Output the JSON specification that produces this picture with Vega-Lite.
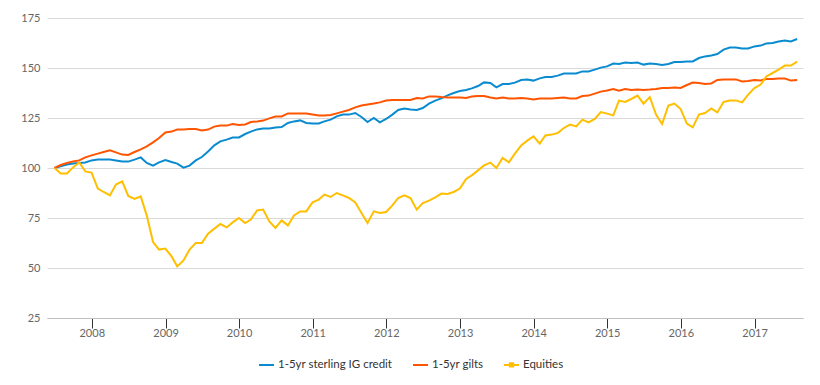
{
  "$schema": "https://vega.github.io/schema/vega-lite/v6.json",
  "width": 756,
  "height": 300,
  "autosize": {"type": "none"},
  "padding": {"left": 47, "top": 18, "right": 17, "bottom": 67},
  "background": "white",
  "config": {"view": {"stroke": null}, "font": "Lato"},
  "data": {"values": [
    {"date":"2007-06-30","credit":100,"gilts":100,"equities":100},
    {"date":"2007-07-31","credit":100.8,"gilts":101.5,"equities":97.3},
    {"date":"2007-08-31","credit":101.7,"gilts":102.5,"equities":97.3},
    {"date":"2007-09-30","credit":102.2,"gilts":103.3,"equities":100.3},
    {"date":"2007-10-31","credit":102.5,"gilts":103.8,"equities":102.8},
    {"date":"2007-11-30","credit":102.8,"gilts":105.3,"equities":98.3},
    {"date":"2007-12-31","credit":103.8,"gilts":106.3,"equities":97.7},
    {"date":"2008-01-31","credit":104.3,"gilts":107.2,"equities":89.7},
    {"date":"2008-02-29","credit":104.3,"gilts":108,"equities":88},
    {"date":"2008-03-31","credit":104.2,"gilts":108.8,"equities":86.3},
    {"date":"2008-04-30","credit":103.8,"gilts":107.8,"equities":91.7},
    {"date":"2008-05-31","credit":103.2,"gilts":106.7,"equities":93.3},
    {"date":"2008-06-30","credit":103.2,"gilts":106.5,"equities":86},
    {"date":"2008-07-31","credit":104.2,"gilts":108,"equities":84.5},
    {"date":"2008-08-31","credit":105.3,"gilts":109.3,"equities":85.8},
    {"date":"2008-09-30","credit":102.5,"gilts":110.8,"equities":76.2},
    {"date":"2008-10-31","credit":101.2,"gilts":112.8,"equities":63},
    {"date":"2008-11-30","credit":102.8,"gilts":115,"equities":59.2},
    {"date":"2008-12-31","credit":104,"gilts":117.8,"equities":59.7},
    {"date":"2009-01-31","credit":103,"gilts":118.2,"equities":55.8},
    {"date":"2009-02-28","credit":102.2,"gilts":119.2,"equities":50.8},
    {"date":"2009-03-31","credit":100.2,"gilts":119.3,"equities":53.8},
    {"date":"2009-04-30","credit":101.2,"gilts":119.5,"equities":59.2},
    {"date":"2009-05-31","credit":103.8,"gilts":119.5,"equities":62.5},
    {"date":"2009-06-30","credit":105.5,"gilts":118.8,"equities":62.5},
    {"date":"2009-07-31","credit":108.3,"gilts":119.2,"equities":67.2},
    {"date":"2009-08-31","credit":111.3,"gilts":120.7,"equities":69.7},
    {"date":"2009-09-30","credit":113.3,"gilts":121.2,"equities":72},
    {"date":"2009-10-31","credit":114.2,"gilts":121.2,"equities":70.3},
    {"date":"2009-11-30","credit":115.2,"gilts":122,"equities":72.8},
    {"date":"2009-12-31","credit":115.3,"gilts":121.5,"equities":75},
    {"date":"2010-01-31","credit":117,"gilts":121.8,"equities":72.5},
    {"date":"2010-02-28","credit":118.2,"gilts":123,"equities":74.2},
    {"date":"2010-03-31","credit":119.3,"gilts":123.3,"equities":78.8},
    {"date":"2010-04-30","credit":119.7,"gilts":123.7,"equities":79.2},
    {"date":"2010-05-31","credit":119.7,"gilts":124.8,"equities":73.3},
    {"date":"2010-06-30","credit":120.3,"gilts":125.7,"equities":70},
    {"date":"2010-07-31","credit":120.5,"gilts":125.8,"equities":73.8},
    {"date":"2010-08-31","credit":122.5,"gilts":127.3,"equities":71.3},
    {"date":"2010-09-30","credit":123.3,"gilts":127.3,"equities":76.3},
    {"date":"2010-10-31","credit":123.8,"gilts":127.3,"equities":78.3},
    {"date":"2010-11-30","credit":122.5,"gilts":127.2,"equities":78.3},
    {"date":"2010-12-31","credit":122.2,"gilts":126.7,"equities":82.8},
    {"date":"2011-01-31","credit":122.3,"gilts":126.2,"equities":84.2},
    {"date":"2011-02-28","credit":123.3,"gilts":126.3,"equities":86.7},
    {"date":"2011-03-31","credit":124.2,"gilts":126.5,"equities":85.5},
    {"date":"2011-04-30","credit":125.8,"gilts":127.3,"equities":87.5},
    {"date":"2011-05-31","credit":126.7,"gilts":128.2,"equities":86.3},
    {"date":"2011-06-30","credit":126.7,"gilts":129,"equities":85},
    {"date":"2011-07-31","credit":127.5,"gilts":130.3,"equities":82.8},
    {"date":"2011-08-31","credit":125.5,"gilts":131.2,"equities":77.5},
    {"date":"2011-09-30","credit":123,"gilts":131.7,"equities":72.5},
    {"date":"2011-10-31","credit":125,"gilts":132.2,"equities":78.3},
    {"date":"2011-11-30","credit":122.8,"gilts":132.8,"equities":77.5},
    {"date":"2011-12-31","credit":124.5,"gilts":133.7,"equities":78},
    {"date":"2012-01-31","credit":126.7,"gilts":134,"equities":81.3},
    {"date":"2012-02-29","credit":129,"gilts":134,"equities":85},
    {"date":"2012-03-31","credit":129.7,"gilts":134,"equities":86.3},
    {"date":"2012-04-30","credit":129.2,"gilts":134,"equities":85},
    {"date":"2012-05-31","credit":129,"gilts":135,"equities":79.2},
    {"date":"2012-06-30","credit":130,"gilts":134.8,"equities":82.5},
    {"date":"2012-07-31","credit":132.2,"gilts":135.8,"equities":83.7},
    {"date":"2012-08-31","credit":133.7,"gilts":135.8,"equities":85.3},
    {"date":"2012-09-30","credit":134.8,"gilts":135.5,"equities":87.2},
    {"date":"2012-10-31","credit":136.3,"gilts":135.3,"equities":87},
    {"date":"2012-11-30","credit":137.5,"gilts":135.3,"equities":88},
    {"date":"2012-12-31","credit":138.5,"gilts":135.2,"equities":89.7},
    {"date":"2013-01-31","credit":139,"gilts":135,"equities":94.5},
    {"date":"2013-02-28","credit":139.8,"gilts":135.7,"equities":96.3},
    {"date":"2013-03-31","credit":141,"gilts":136,"equities":98.8},
    {"date":"2013-04-30","credit":142.8,"gilts":136,"equities":101.3},
    {"date":"2013-05-31","credit":142.5,"gilts":135.3,"equities":102.7},
    {"date":"2013-06-30","credit":140.3,"gilts":134.7,"equities":100},
    {"date":"2013-07-31","credit":142,"gilts":135.2,"equities":105},
    {"date":"2013-08-31","credit":142,"gilts":134.7,"equities":102.8},
    {"date":"2013-09-30","credit":142.7,"gilts":134.8,"equities":107.2},
    {"date":"2013-10-31","credit":144,"gilts":135,"equities":111.3},
    {"date":"2013-11-30","credit":144.2,"gilts":134.7,"equities":113.7},
    {"date":"2013-12-31","credit":143.7,"gilts":134.2,"equities":115.8},
    {"date":"2014-01-31","credit":144.8,"gilts":134.8,"equities":112.2},
    {"date":"2014-02-28","credit":145.5,"gilts":134.7,"equities":116.3},
    {"date":"2014-03-31","credit":145.5,"gilts":134.8,"equities":116.7},
    {"date":"2014-04-30","credit":146.2,"gilts":135,"equities":117.5},
    {"date":"2014-05-31","credit":147.2,"gilts":135.2,"equities":120},
    {"date":"2014-06-30","credit":147.2,"gilts":134.8,"equities":121.7},
    {"date":"2014-07-31","credit":147.3,"gilts":134.8,"equities":120.8},
    {"date":"2014-08-31","credit":148.3,"gilts":136,"equities":124.2},
    {"date":"2014-09-30","credit":148.3,"gilts":136.2,"equities":122.8},
    {"date":"2014-10-31","credit":149.2,"gilts":137.2,"equities":124.5},
    {"date":"2014-11-30","credit":150.2,"gilts":138.2,"equities":128},
    {"date":"2014-12-31","credit":150.8,"gilts":138.8,"equities":127.2},
    {"date":"2015-01-31","credit":152.2,"gilts":139.5,"equities":126.3},
    {"date":"2015-02-28","credit":152,"gilts":138.7,"equities":133.7},
    {"date":"2015-03-31","credit":152.7,"gilts":139.5,"equities":133},
    {"date":"2015-04-30","credit":152.5,"gilts":139,"equities":134.5},
    {"date":"2015-05-31","credit":152.7,"gilts":139.2,"equities":136.2},
    {"date":"2015-06-30","credit":151.7,"gilts":139,"equities":132.2},
    {"date":"2015-07-31","credit":152.2,"gilts":139.2,"equities":135.5},
    {"date":"2015-08-31","credit":152,"gilts":139.5,"equities":126.7},
    {"date":"2015-09-30","credit":151.5,"gilts":140,"equities":122},
    {"date":"2015-10-31","credit":152,"gilts":140,"equities":131.2},
    {"date":"2015-11-30","credit":153,"gilts":140.2,"equities":132.2},
    {"date":"2015-12-31","credit":153,"gilts":140,"equities":129.5},
    {"date":"2016-01-31","credit":153.3,"gilts":141.5,"equities":122.2},
    {"date":"2016-02-29","credit":153.3,"gilts":142.7,"equities":120.3},
    {"date":"2016-03-31","credit":155,"gilts":142.5,"equities":126.7},
    {"date":"2016-04-30","credit":155.8,"gilts":142,"equities":127.5},
    {"date":"2016-05-31","credit":156.3,"gilts":142.3,"equities":129.8},
    {"date":"2016-06-30","credit":157,"gilts":144,"equities":127.8},
    {"date":"2016-07-31","credit":159.2,"gilts":144.3,"equities":133},
    {"date":"2016-08-31","credit":160.2,"gilts":144.3,"equities":133.7},
    {"date":"2016-09-30","credit":160.3,"gilts":144.3,"equities":133.8},
    {"date":"2016-10-31","credit":159.7,"gilts":143.3,"equities":132.8},
    {"date":"2016-11-30","credit":159.8,"gilts":143.5,"equities":136.7},
    {"date":"2016-12-31","credit":160.8,"gilts":144,"equities":140},
    {"date":"2017-01-31","credit":161.2,"gilts":143.8,"equities":141.7},
    {"date":"2017-02-28","credit":162.3,"gilts":144.5,"equities":145.8},
    {"date":"2017-03-31","credit":162.5,"gilts":144.5,"equities":147.5},
    {"date":"2017-04-30","credit":163.2,"gilts":144.7,"equities":149.2},
    {"date":"2017-05-31","credit":163.8,"gilts":144.7,"equities":151.2},
    {"date":"2017-06-30","credit":163.3,"gilts":143.7,"equities":151.2},
    {"date":"2017-07-31","credit":164.5,"gilts":144,"equities":153.2}
  ]},
  "transform": [{"fold": ["credit", "gilts", "equities"], "as": ["series", "value"]}],
  "mark": {"type": "line", "strokeWidth": 2, "interpolate": "linear"},
  "encoding": {
    "x": {
      "field": "date", "type": "temporal",
      "scale": {"domain": [{"year": 2007, "month": 5, "date": 24}, {"year": 2017, "month": 8, "date": 29}]},
      "axis": {"format": "%Y", "tickCount": {"interval": "year", "step": 1}, "grid": false, "domainColor": "#c0c0c0", "tickColor": "#333333", "tickSize": 10, "labelColor": "#666666", "labelFontSize": 11, "labelPadding": -1, "title": null, "labelFlush": false}
    },
    "y": {
      "field": "value", "type": "quantitative",
      "scale": {"domain": [25, 175], "nice": false, "zero": false},
      "axis": {"values": [25, 50, 75, 100, 125, 150, 175], "grid": true, "gridColor": "#d9d9d9", "domain": false, "ticks": false, "labelColor": "#666666", "labelFontSize": 11, "labelPadding": 7, "title": null}
    },
    "color": {
      "field": "series", "type": "nominal",
      "scale": {"domain": ["credit", "gilts", "equities"], "range": ["#0a8bd0", "#ff5500", "#ffbf00"]},
      "legend": {
        "orient": "none", "legendX": 211, "legendY": 338, "direction": "horizontal", "title": null,
        "labelExpr": "{'credit': '1-5yr sterling IG credit', 'gilts': '1-5yr gilts', 'equities': 'Equities'}[datum.label]",
        "labelFontSize": 11.5, "labelColor": "#333333", "symbolType": "stroke", "symbolSize": 225, "symbolStrokeWidth": 2, "columnPadding": 16, "labelOffset": 3,
        "encode": {"symbols": {"update": {
          "shape": {"signal": "datum.value == 'equities' ? 'M-1,0H1M-0.22,-0.22H0.22V0.22H-0.22Z' : 'stroke'"},
          "fill": {"signal": "datum.value == 'equities' ? '#ffbf00' : 'transparent'"}
        }}}
      }
    }
  }
}
